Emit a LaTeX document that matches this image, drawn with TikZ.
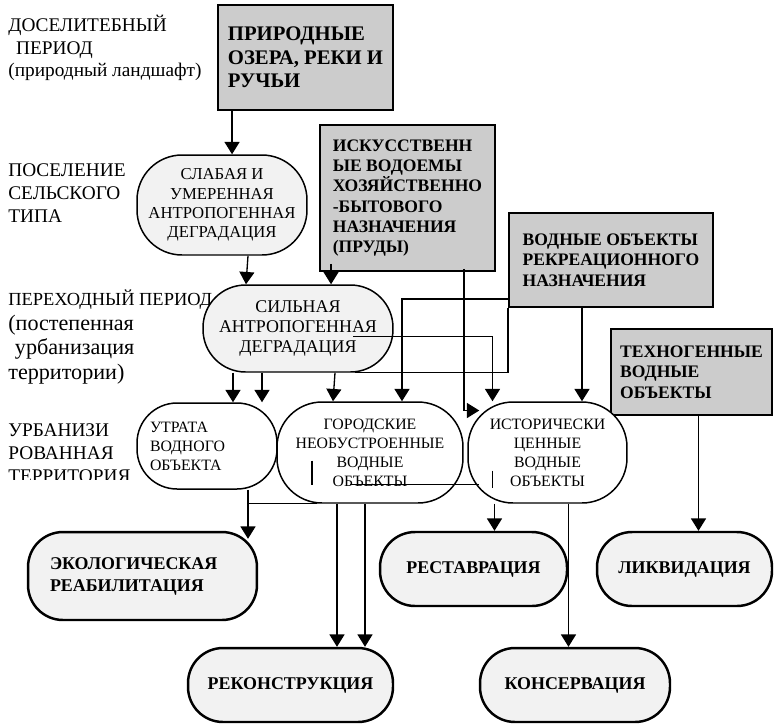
\documentclass[tikz,border=0pt]{standalone}
\usepackage{fontspec}
\setmainfont{Liberation Serif}
\usetikzlibrary{calc,arrows.meta}

\begin{document}
\begin{tikzpicture}[
		x=0.02cm, y=-0.02cm,
		arrow line/.style={line width=.75pt, -{Triangle[length=7pt,width=8.5pt]}},
		plain line/.style={line width=.75pt},
		]
		\tikzset{
			grayBox/.style={draw, line width=1.1pt, fill=gray!40, align=left, font=\fontsize{10}{11.6}\selectfont\bfseries},
			lightNode/.style={draw, line width=.85pt, fill=gray!10, rounded corners=.85cm, align=center, font=\fontsize{9.5}{11}\selectfont},
			whiteNode/.style={draw, line width=.85pt, fill=white, rounded corners=.85cm, align=center, font=\fontsize{9}{10.8}\selectfont},
			endNode/.style={draw, line width=1.4pt, fill=gray!10, rounded corners=.7cm, align=center, minimum height=1.48cm, font=\fontsize{10.2}{12.5}\selectfont\bfseries},
			periodLabel/.style={anchor=west, align=left, inner sep=0pt, font=\fontsize{11}{13}\selectfont},
		}
		\useasboundingbox (0,0) rectangle (775,725);
		
		% periods
		\node[periodLabel] (perDo) at (8,48) {ДОСЕЛИТЕБНЫЙ\\\hspace{.4em}ПЕРИОД\\(природный ландшафт)};
		\node[periodLabel] (perSel) at (8,193) {ПОСЕЛЕНИЕ\\СЕЛЬСКОГО\\ТИПА};
		\node[periodLabel, font=\fontsize{12.6}{14.2}\selectfont] (perPer) at (8,337) {{\fontsize{10.5}{14.2}\selectfont ПЕРЕХОДНЫЙ ПЕРИОД}\\(постепенная\\\hspace{.3em}урбанизация\\территории)};
		\begin{scope}
			\clip (0,400) rectangle (135,479);
			\node[periodLabel] (perUrb) at (8,453) {УРБАНИЗИ\\РОВАННАЯ\\ТЕРРИТОРИЯ};
		\end{scope}
		
		% water bodies
		\node[grayBox, font=\fontsize{11.8}{13.3}\selectfont\bfseries, minimum width=3.5cm, minimum height=2.1cm] (prir) at (305.5,57.5) {ПРИРОДНЫЕ\\ОЗЕРА, РЕКИ И\\РУЧЬИ};
		\node[grayBox, minimum width=3.5cm, minimum height=2.92cm] (iskus) at (407.5,198) {ИСКУССТВЕНН\\ЫЕ ВОДОЕМЫ\\ХОЗЯЙСТВЕННО\\-БЫТОВОГО\\НАЗНАЧЕНИЯ\\(ПРУДЫ)};
		\node[grayBox, minimum width=4.08cm, minimum height=1.88cm] (rekr) at (611,260) {ВОДНЫЕ ОБЪЕКТЫ\\РЕКРЕАЦИОННОГО\\НАЗНАЧЕНИЯ};
		\node[grayBox, minimum width=3.22cm, minimum height=1.72cm] (tehn) at (691.5,372) {ТЕХНОГЕННЫЕ\\ВОДНЫЕ\\ОБЪЕКТЫ};
		
		% states
		\node[lightNode, minimum width=3.4cm, minimum height=2cm, rounded corners=.9cm] (slab) at (222,205) {СЛАБАЯ И\\УМЕРЕННАЯ\\АНТРОПОГЕННАЯ\\ДЕГРАДАЦИЯ};
		\node[lightNode, minimum width=3.8cm, minimum height=1.74cm, font=\fontsize{10.2}{11.5}\selectfont] (silna) at (298,328.5) {СИЛЬНАЯ\\АНТРОПОГЕННАЯ\\ДЕГРАДАЦИЯ};
		\node[whiteNode, align=left, inner xsep=.26cm, text width=2.28cm, minimum height=1.72cm, rounded corners=.8cm] (utrata) at (207,446) {УТРАТА\\ВОДНОГО\\ОБЪЕКТА};
		\node[whiteNode, minimum width=3.72cm, minimum height=2.02cm, rounded corners=.9cm] (gorod) at (370,452.5) {ГОРОДСКИЕ\\НЕОБУСТРОЕННЫЕ\\ВОДНЫЕ\\ОБЪЕКТЫ};
		\node[whiteNode, minimum width=3.18cm, minimum height=2.02cm, rounded corners=.9cm] (istor) at (547.5,452.5) {ИСТОРИЧЕСКИ\\ЦЕННЫЕ\\ВОДНЫЕ\\ОБЪЕКТЫ};
		
		% measures
		\node[endNode, align=left, inner xsep=.44cm, text width=3.7cm, minimum height=1.76cm] (ekol) at (142.5,576) {ЭКОЛОГИЧЕСКАЯ\\РЕАБИЛИТАЦИЯ};
		\node[endNode, minimum width=4.1cm] (rekon) at (290.5,685) {РЕКОНСТРУКЦИЯ};
		\node[endNode, minimum width=3.74cm] (restav) at (473.5,569) {РЕСТАВРАЦИЯ};
		\node[endNode, minimum width=3.5cm] (likv) at (684.5,569) {ЛИКВИДАЦИЯ};
		\node[endNode, minimum width=3.8cm] (konserv) at (575,685) {КОНСЕРВАЦИЯ};
		
		\draw[arrow line] ($(prir.south west)+(15,0)$) coordinate (a1) -- (a1 |- slab.north);
		\draw[arrow line] ($(slab.south)+(26,0)$) -- ($(silna.north)+(-52,0)$);
		\draw[arrow line] ($(iskus.south west)+(12,-8)$) coordinate (a3) -- (a3 |- silna.north);
		\foreach \dx in {-65,-36}{
			\draw[arrow line] ($(silna.south)+(\dx,0)$) coordinate (a4) -- (a4 |- utrata.north);
		}
		\draw[arrow line] ($(silna.south)+(37,0)$) -- ($(gorod.north)+(-37,0)$);
		\draw[arrow line] ($(rekr.south west)+(0,-9)$) -| ($(gorod.north)+(32,0)$);
		\draw[arrow line] ($(silna.center)+(55,8)$) -| ($(istor.north)+(-55,0)$);
		\draw[plain line] (rekr.south west) |- ($(silna.south)+(57,0)$);
		\draw[arrow line] ($(iskus.south east)+(-32,-3)$) |- ($(istor.west)+(12,-42)$);
		\draw[arrow line] ($(rekr.south)+(-29,0)$) coordinate (a10) -- (a10 |- istor.north);
		\draw[arrow line] ($(tehn.south)+(7,0)$) coordinate (a11) -- (a11 |- likv.north);
		
		\draw[arrow line] ($(utrata.south)+(41,0)$) coordinate (a12) -- ($(a12 |- ekol.north)+(0,8)$);
		\draw[plain line] (a12 |- gorod.south) -- ($(gorod.south)+(-53,0)$);
		\foreach \dx in {-33,-5}{
			\draw[arrow line] ($(gorod.south)+(\dx,0)$) coordinate (a14) -- (a14 |- rekon.north);
		}
		\draw[arrow line] ($(istor.south)+(-53,0)$) coordinate (a15) -- (a15 |- restav.north);
		\draw[arrow line] ($(istor.south)+(21,0)$) coordinate (a16) -- (a16 |- konserv.north);
		
		\draw[plain line] ($(gorod.center)+(-58,8)$) -- ++(0,24);
		\draw[plain line] ($(gorod.center)+(-20,32)$) -- ($(istor.west)+(12,32)$);
		\draw[plain line] ($(istor.center)+(-55,18)$) -- ++(0,17);
	\end{tikzpicture}
\end{document}
